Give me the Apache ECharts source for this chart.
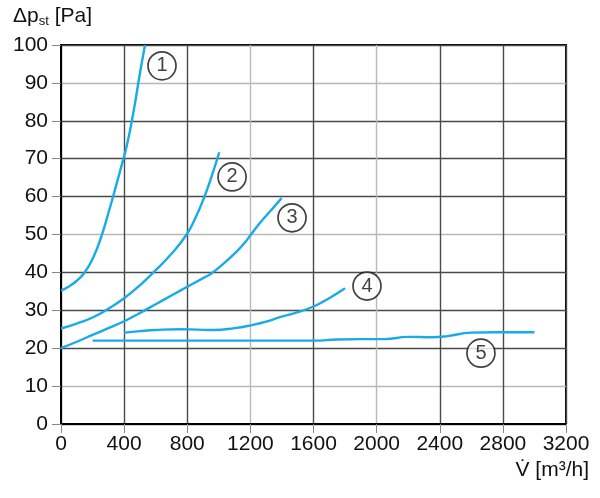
<!DOCTYPE html>
<html>
<head>
<meta charset="utf-8">
<script src="https://cdn.jsdelivr.net/npm/echarts@6/dist/echarts.min.js"></script>
<style>html,body{margin:0;padding:0;background:#fff}#c{width:600px;height:498px}</style>
</head>
<body>
<div id="c"></div>
<script>
var xTicks = [0, 400, 800, 1200, 1600, 2000, 2400, 2800, 3200];
var yTicks = [0, 10, 20, 30, 40, 50, 60, 70, 80, 90, 100];
var curve1 = [[0,35.2],[50,36.3],[100,37.8],[152,40.1],[205,44],[258,49.8],[300,55.6],[340,61.5],[380,67.6],[420,74],[460,82.5],[500,92.5],[532,100]];
var curve2 = [[0,25.2],[100,26.5],[200,28.1],[300,30.4],[400,33.2],[500,36.6],[600,40.6],[700,44.9],[796,50],[850,54.2],[908,59.9],[955,65.4],[1003,71.7]];
var curve3 = [[0,20],[100,21.7],[200,23.5],[300,25.3],[400,27.1],[500,29.3],[600,31.6],[700,33.9],[800,36.2],[900,38.5],[955,39.8],[1030,42.3],[1113,45.5],[1160,47.6],[1202,49.9],[1250,52.5],[1303,55.1],[1350,57.3],[1398,59.6]];
var curve4 = [[400,24.1],[500,24.5],[600,24.8],[754,25],[860,24.9],[965,24.8],[1100,25.3],[1209,26.1],[1300,27],[1388,28.2],[1500,29.5],[1600,31],[1700,33.2],[1800,35.8]];
var curve5 = [[200,22],[600,22],[1000,22],[1400,22],[1600,22],[1750,22.3],[1900,22.4],[2050,22.4],[2200,23],[2350,22.9],[2450,23.2],[2600,24.1],[2750,24.2],[3000,24.2]];
var curveLabels = ['1','2','3','4','5'];
var labelPos = [[640,94.5],[1084,65.2],[1464,54.4],[1939,36.4],[2661,18.7]];

var FONT = '"Liberation Sans","Arial",sans-serif';
var BLUE = '#18ace6';
var dark = '#4a4a4a', light = '#b8b8b8';

var chart = echarts.init(document.getElementById('c'));
function lineSeries(d){
  return {type:'line', data:d, smooth:0.5, showSymbol:false, symbol:'none',
    lineStyle:{color:BLUE, width:2.4}, z:3, animation:false};
}
function plain(v){ return String(v); }
var option = {
  animation:false,
  grid:{left:61, right:34, top:45, bottom:74, show:true, borderColor:'#000', borderWidth:2, backgroundColor:'transparent'},
  xAxis:{type:'value', min:xTicks[0], max:xTicks[xTicks.length-1], interval:400,
    axisLine:{show:true, onZero:false, lineStyle:{color:'#000', width:2}},
    axisTick:{show:true, length:9, lineStyle:{color:'#888', width:1}},
    axisLabel:{fontFamily:FONT, fontSize:21, color:'#111', margin:10, formatter:plain},
    splitLine:{show:true, lineStyle:{color:[dark,dark,dark,light,dark,light,dark,dark,dark], width:1.4}}},
  yAxis:{type:'value', min:yTicks[0], max:yTicks[yTicks.length-1], interval:10,
    axisLine:{show:true, onZero:false, lineStyle:{color:'#000', width:2}},
    axisTick:{show:true, length:9, lineStyle:{color:'#888', width:1}},
    axisLabel:{fontFamily:FONT, fontSize:21, color:'#111', margin:13, formatter:plain},
    splitLine:{show:true, lineStyle:{color:[dark,light,dark,dark,dark,light,dark,dark,dark,light,dark], width:1.4}}},
  graphic:[
    {type:'text', left:13, top:6, style:{rich:{
        a:{fontFamily:FONT, fontSize:21, fill:'#111'},
        s:{fontFamily:FONT, fontSize:13, fill:'#111', padding:[10,0,0,0]}},
      text:'{a|Δp}{s|st}{a| [Pa]}', fill:'#111'}},
    {type:'text', right:11, top:460, style:{text:'V\u0307 [m\u00b3/h]', fontFamily:FONT, fontSize:21, fill:'#111'}}
  ],
  series:[
    lineSeries(curve1), lineSeries(curve2), lineSeries(curve3), lineSeries(curve4), lineSeries(curve5),
    {type:'scatter', data:labelPos.map(function(p,i){return {value:p, name:curveLabels[i]};}),
      symbol:'circle', symbolSize:28, z:5,
      itemStyle:{color:'#fff', borderColor:'#111', borderWidth:1.7},
      label:{show:true, position:'inside', formatter:function(p){return p.name;}, fontFamily:FONT, fontSize:20, color:'#111'}}
  ]
};
chart.setOption(option);
</script>
</body>
</html>
